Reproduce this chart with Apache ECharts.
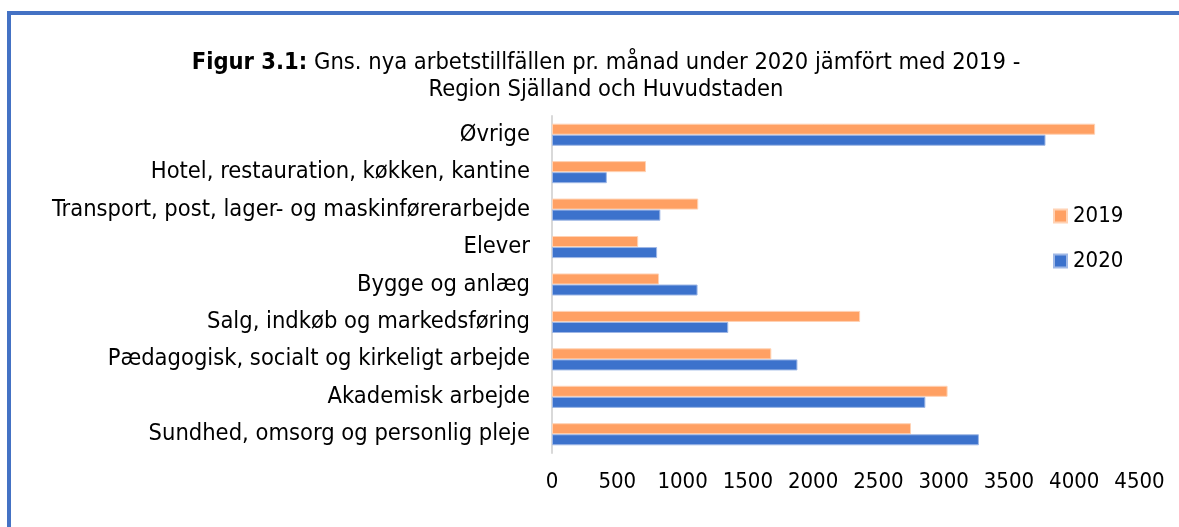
<!DOCTYPE html>
<html>
<head>
<meta charset="utf-8">
<script src="https://cdn.jsdelivr.net/npm/echarts@6/dist/echarts.min.js"></script>
<style>
html, body { margin: 0; padding: 0; background: #fff; }
#plot { width: 1179px; height: 527px; }
</style>
</head>
<body>
<div id="plot"></div>
<script>
var categories = [
	'Sundhed, omsorg og personlig pleje',
	'Akademisk arbejde',
	'Pædagogisk, socialt og kirkeligt arbejde',
	'Salg, indkøb og markedsføring',
	'Bygge og anlæg',
	'Elever',
	'Transport, post, lager- og maskinførerarbejde',
	'Hotel, restauration, køkken, kantine',
	'Øvrige'
];
var values2019 = [2750, 3030, 1680, 2360, 820, 660, 1120, 720, 4160];
var values2020 = [3270, 2860, 1880, 1350, 1115, 805, 830, 420, 3780];
var seriesNames = ['2019', '2020'];

var font = "'DejaVu Sans Condensed', 'DejaVu Sans', sans-serif";

var option = {
	animation: false,
	title: {
		text: '{b|Figur 3.1:} Gns. nya arbetstillfällen pr. månad under 2020 jämfört med 2019 -\nRegion Själland och Huvudstaden',
		left: 606,
		top: 49,
		textAlign: 'center',
		padding: 0,
		textStyle: {
			fontFamily: font,
			fontSize: 23.5,
			fontWeight: 'normal',
			color: '#000',
			lineHeight: 27,
			rich: {
				b: { fontFamily: font, fontSize: 23.5, fontWeight: 'bold', color: '#000', lineHeight: 27 }
			}
		}
	},
	legend: {
		orient: 'vertical',
		left: 1053,
		top: 205,
		padding: 0,
		itemWidth: 13,
		itemHeight: 13,
		itemGap: 23,
		icon: 'rect',
		data: seriesNames,
		textStyle: { fontFamily: font, fontSize: 22, color: '#000', padding: [0, 0, 0, 1] }
	},
	graphic: [
		{ type: 'rect', shape: { x: 7, y: 11, width: 1172, height: 4 }, style: { fill: '#4472C4' } },
		{ type: 'rect', shape: { x: 7, y: 11, width: 4, height: 516 }, style: { fill: '#4472C4' } }
	],
	grid: { left: 552, right: 39.5, top: 116, bottom: 74, containLabel: false },
	xAxis: {
		type: 'value',
		min: 0,
		max: 4500,
		interval: 500,
		axisLine: { show: false },
		axisTick: { show: false },
		splitLine: { show: false },
		axisLabel: {
			fontFamily: font, fontSize: 22, color: '#000', margin: 18,
			formatter: function (v) { return String(v); }
		}
	},
	yAxis: {
		type: 'category',
		data: categories,
		axisLine: { show: true, lineStyle: { color: '#D9D9D9', width: 2 } },
		axisTick: { show: false },
		axisLabel: { fontFamily: font, fontSize: 23.5, color: '#000', margin: 22 }
	},
	series: [
		{
			name: seriesNames[0],
			type: 'bar',
			data: values2019,
			barGap: '0%',
			barCategoryGap: '41%',
			itemStyle: { color: '#FFA063', borderColor: '#FFD2B4', borderWidth: 1 }
		},
		{
			name: seriesNames[1],
			type: 'bar',
			data: values2020,
			barGap: '0%',
			barCategoryGap: '41%',
			itemStyle: { color: '#3C72CC', borderColor: '#9FB8E6', borderWidth: 1 }
		}
	]
};

var myChart = echarts.init(document.getElementById('plot'));
myChart.setOption(option);
</script>
</body>
</html>
